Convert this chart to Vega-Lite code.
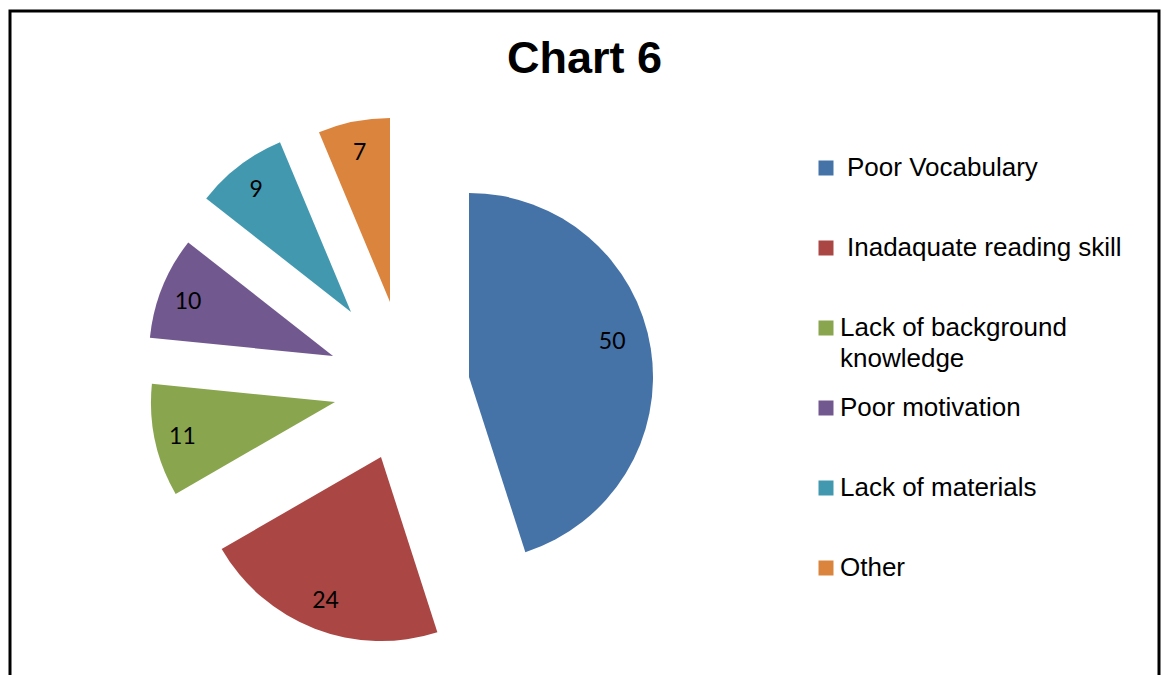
{
  "$schema": "https://vega.github.io/schema/vega-lite/v6.json",
  "autosize": {"type": "none"},
  "padding": {"left": 10, "top": 11, "right": 3, "bottom": 0},
  "width": 1149,
  "height": 667,
  "background": "white",
  "view": {"stroke": "black", "strokeWidth": 3, "fill": "white"},
  "title": {
    "text": "Chart 6",
    "font": "Liberation Sans",
    "fontSize": 45,
    "fontWeight": "bold",
    "color": "black",
    "anchor": "middle",
    "offset": -71
  },
  "data": {
    "values": [
      {"category": "Poor Vocabulary", "value": 50},
      {"category": "Inadaquate reading skill", "value": 24},
      {"category": "Lack of background knowledge", "value": 11},
      {"category": "Poor motivation", "value": 10},
      {"category": "Lack of materials", "value": 9},
      {"category": "Other", "value": 7}
    ]
  },
  "transform": [
    {"stack": "value", "groupby": [], "sort": [{"field": "value", "order": "descending"}], "as": ["t0", "t1"]}
  ],
  "layer": [
    {
      "transform": [{"filter": "datum.category === 'Poor Vocabulary'"}],
      "mark": {"type": "arc", "outerRadius": 184, "xOffset": -115.5, "yOffset": 32.5},
      "encoding": {
        "theta": {"field": "t0", "type": "quantitative", "scale": {"domain": [0, 111]}},
        "theta2": {"field": "t1"},
        "color": {
          "field": "category", "type": "nominal",
          "scale": {"domain": ["Poor Vocabulary", "Inadaquate reading skill", "Lack of background knowledge", "Poor motivation", "Lack of materials", "Other"], "range": ["#4572A7", "#AA4643", "#89A54E", "#71588F", "#4198AF", "#DB843D"]},
          "legend": {
            "orient": "none",
            "legendX": 803,
            "legendY": 144,
            "direction": "vertical",
            "gridAlign": "all",
            "rowPadding": 23,
            "padding": 0,
            "title": null,
            "symbolType": "square",
            "symbolSize": 225,
            "symbolStrokeWidth": 0,
            "labelFont": "Liberation Sans",
            "labelFontSize": 26,
            "labelColor": "black",
            "labelLimit": 600,
            "labelOffset": 1,
            "labelExpr": "datum.value === 'Lack of background knowledge' ? ['Lack of background', 'knowledge'] : datum.value",
            "encode": {
              "labels": {
                "update": {
                  "dx": {"signal": "datum.value === 'Poor Vocabulary' || datum.value === 'Inadaquate reading skill' ? 7 : 0"},
                  "lineHeight": {"value": 31}
                }
              }
            }
          }
        }
      }
    },
    {
      "transform": [{"filter": "datum.category === 'Inadaquate reading skill'"}],
      "mark": {"type": "arc", "outerRadius": 184, "xOffset": -203.5, "yOffset": 112.5},
      "encoding": {
        "theta": {"field": "t0", "type": "quantitative", "scale": {"domain": [0, 111]}},
        "theta2": {"field": "t1"},
        "color": {"field": "category", "type": "nominal"}
      }
    },
    {
      "transform": [{"filter": "datum.category === 'Lack of background knowledge'"}],
      "mark": {"type": "arc", "outerRadius": 184, "xOffset": -249.5, "yOffset": 57.5},
      "encoding": {
        "theta": {"field": "t0", "type": "quantitative", "scale": {"domain": [0, 111]}},
        "theta2": {"field": "t1"},
        "color": {"field": "category", "type": "nominal"}
      }
    },
    {
      "transform": [{"filter": "datum.category === 'Poor motivation'"}],
      "mark": {"type": "arc", "outerRadius": 184, "xOffset": -251.5, "yOffset": 11.5},
      "encoding": {
        "theta": {"field": "t0", "type": "quantitative", "scale": {"domain": [0, 111]}},
        "theta2": {"field": "t1"},
        "color": {"field": "category", "type": "nominal"}
      }
    },
    {
      "transform": [{"filter": "datum.category === 'Lack of materials'"}],
      "mark": {"type": "arc", "outerRadius": 184, "xOffset": -233.5, "yOffset": -32.5},
      "encoding": {
        "theta": {"field": "t0", "type": "quantitative", "scale": {"domain": [0, 111]}},
        "theta2": {"field": "t1"},
        "color": {"field": "category", "type": "nominal"}
      }
    },
    {
      "transform": [{"filter": "datum.category === 'Other'"}],
      "mark": {"type": "arc", "outerRadius": 184, "xOffset": -194.5, "yOffset": -42.5},
      "encoding": {
        "theta": {"field": "t0", "type": "quantitative", "scale": {"domain": [0, 111]}},
        "theta2": {"field": "t1"},
        "color": {"field": "category", "type": "nominal"}
      }
    },
    {
      "transform": [
        {"filter": "datum.category === 'Poor Vocabulary'"},
        {"fold": ["t0", "t1"], "as": ["k", "v"]},
        {"aggregate": [{"op": "mean", "field": "v", "as": "mid"}, {"op": "max", "field": "value", "as": "value"}], "groupby": ["category"]}
      ],
      "mark": {"type": "text", "radius": 154, "font": "Lato", "fontSize": 23, "color": "black", "align": "center", "baseline": "middle", "xOffset": -124.5, "yOffset": 21.5},
      "encoding": {
        "theta": {"field": "mid", "type": "quantitative", "scale": {"domain": [0, 111]}},
        "text": {"field": "value", "type": "quantitative"}
      }
    },
    {
      "transform": [
        {"filter": "datum.category === 'Inadaquate reading skill'"},
        {"fold": ["t0", "t1"], "as": ["k", "v"]},
        {"aggregate": [{"op": "mean", "field": "v", "as": "mid"}, {"op": "max", "field": "value", "as": "value"}], "groupby": ["category"]}
      ],
      "mark": {"type": "text", "radius": 154, "font": "Lato", "fontSize": 23, "color": "black", "align": "center", "baseline": "middle", "xOffset": -203.5, "yOffset": 112.5},
      "encoding": {
        "theta": {"field": "mid", "type": "quantitative", "scale": {"domain": [0, 111]}},
        "text": {"field": "value", "type": "quantitative"}
      }
    },
    {
      "transform": [
        {"filter": "datum.category === 'Lack of background knowledge'"},
        {"fold": ["t0", "t1"], "as": ["k", "v"]},
        {"aggregate": [{"op": "mean", "field": "v", "as": "mid"}, {"op": "max", "field": "value", "as": "value"}], "groupby": ["category"]}
      ],
      "mark": {"type": "text", "radius": 154, "font": "Lato", "fontSize": 23, "color": "black", "align": "center", "baseline": "middle", "xOffset": -251.5, "yOffset": 60},
      "encoding": {
        "theta": {"field": "mid", "type": "quantitative", "scale": {"domain": [0, 111]}},
        "text": {"field": "value", "type": "quantitative"}
      }
    },
    {
      "transform": [
        {"filter": "datum.category === 'Poor motivation'"},
        {"fold": ["t0", "t1"], "as": ["k", "v"]},
        {"aggregate": [{"op": "mean", "field": "v", "as": "mid"}, {"op": "max", "field": "value", "as": "value"}], "groupby": ["category"]}
      ],
      "mark": {"type": "text", "radius": 154, "font": "Lato", "fontSize": 23, "color": "black", "align": "center", "baseline": "middle", "xOffset": -253.5, "yOffset": 14.5},
      "encoding": {
        "theta": {"field": "mid", "type": "quantitative", "scale": {"domain": [0, 111]}},
        "text": {"field": "value", "type": "quantitative"}
      }
    },
    {
      "transform": [
        {"filter": "datum.category === 'Lack of materials'"},
        {"fold": ["t0", "t1"], "as": ["k", "v"]},
        {"aggregate": [{"op": "mean", "field": "v", "as": "mid"}, {"op": "max", "field": "value", "as": "value"}], "groupby": ["category"]}
      ],
      "mark": {"type": "text", "radius": 154, "font": "Lato", "fontSize": 23, "color": "black", "align": "center", "baseline": "middle", "xOffset": -235, "yOffset": -32},
      "encoding": {
        "theta": {"field": "mid", "type": "quantitative", "scale": {"domain": [0, 111]}},
        "text": {"field": "value", "type": "quantitative"}
      }
    },
    {
      "transform": [
        {"filter": "datum.category === 'Other'"},
        {"fold": ["t0", "t1"], "as": ["k", "v"]},
        {"aggregate": [{"op": "mean", "field": "v", "as": "mid"}, {"op": "max", "field": "value", "as": "value"}], "groupby": ["category"]}
      ],
      "mark": {"type": "text", "radius": 154, "font": "Lato", "fontSize": 23, "color": "black", "align": "center", "baseline": "middle", "xOffset": -194.5, "yOffset": -40.5},
      "encoding": {
        "theta": {"field": "mid", "type": "quantitative", "scale": {"domain": [0, 111]}},
        "text": {"field": "value", "type": "quantitative"}
      }
    }
  ],
  "config": {
    "view": {"stroke": "black", "strokeWidth": 3},
    "style": {"view": {"stroke": "black", "strokeWidth": 3}}
  }
}
